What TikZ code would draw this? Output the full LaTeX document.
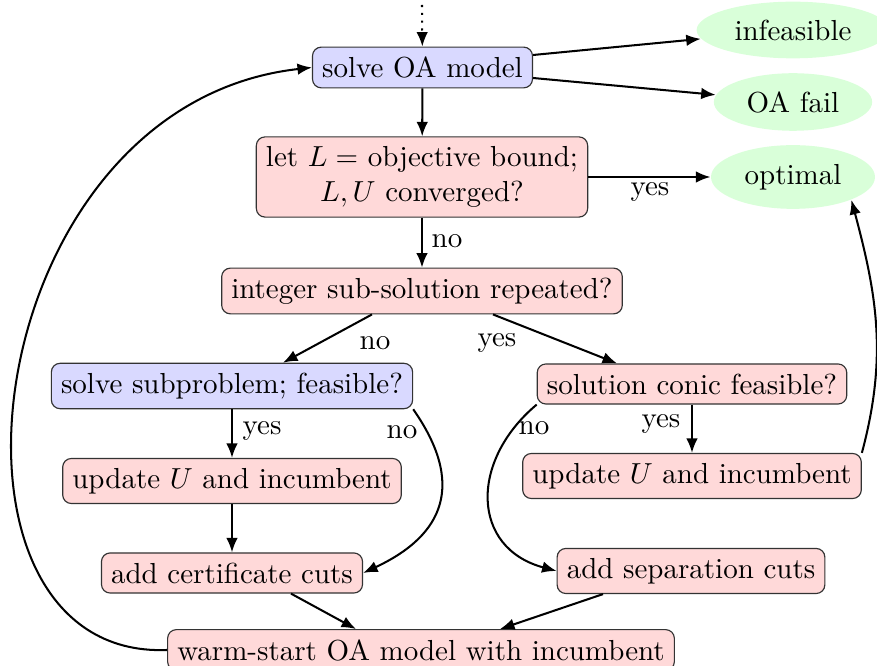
\documentclass[tikz,border=0pt]{standalone}
\usetikzlibrary{shapes.geometric,arrows.meta,calc}
\begin{document}
\begin{tikzpicture}[x=0.345pt,y=-0.345pt,
  box/.style={draw=black!80, rounded corners=3pt, fill=red!15},
  blbox/.style={box, fill=blue!15},
  term/.style={ellipse, fill=green!15},
  arr/.style={-{Latex[length=5pt,width=4pt]}, line width=0.7pt},
  lbl/.style={inner sep=1pt}]
\useasboundingbox (0,0) rectangle (877,666);
\clip (0,0) rectangle (877,666);
% nodes
\coordinate (top) at (422,5);
\node[blbox] (oa) at (422.5,67.5) {solve OA model};
\node[term] (inf) at (793,30) {infeasible};
\node[term] (fail) at (793,102) {OA fail};
\node[term] (opt) at (793,177) {optimal};
\node[box, align=center] (conv) at (422,177) {let $L=$ objective bound;\\ $L,U$ converged?};
\node[box] (rep) at (422,291) {integer sub-solution repeated?};
\node[blbox] (sub) at (232,386) {solve subproblem; feasible?};
\node[box] (con) at (692,384) {solution conic feasible?};
\node[box] (updL) at (232,481) {update $U$ and incumbent};
\node[box] (updR) at (692,476) {update $U$ and incumbent};
\node[box] (cert) at (232,573) {add certificate cuts};
\node[box] (sep) at (691,571) {add separation cuts};
\node[box] (warm) at (421,650) {warm-start OA model with incumbent};
% labels
\node[lbl] (l1) at (650,192) {yes};
\node[lbl] (l2) at (447,241) {no};
\node[lbl] (l3) at (375,343) {no};
\node[lbl] (l4) at (497,343) {yes};
\node[lbl] (l5) at (262,431) {yes};
\node[lbl] (l6) at (402,432) {no};
\node[lbl] (l7) at (534,428) {no};
\node[lbl] (l8) at (661,424) {yes};
% connectors
\draw[arr, dotted] (top) -- (oa);
\draw[arr] ($(oa.east)+(0,-12.5)$) -- (inf);
\draw[arr] ($(oa.east)+(0,10.5)$) -- (fail);
\draw[arr] (oa) -- (conv);
\draw[arr] (conv.east) -- (opt);
\draw[arr] (conv) -- (rep);
\draw[arr] ($(rep.south)+(-50,0)$) -- ($(sub.north)+(51,0)$);
\draw[arr] ($(rep.south)+(71,0)$) -- ($(con.north)+(-75,0)$);
\draw[arr] (sub) -- (updL);
\draw[arr] (updL) -- (cert);
\draw[arr] (sub.south east) to[out=-55,in=25,looseness=1.35] (cert.east);
\draw[arr] (con) -- (updR);
\draw[arr] (con.south west) to[out=-140,in=165,looseness=1.35] (sep.west);
\draw[arr] (updR.north east) to[out=75,in=-75] (opt.south east);
\draw[arr] ($(cert.south)+(59,0)$) -- ($(warm.north)+(-65,0)$);
\draw[arr] ($(sep.south)+(-88,0)$) -- ($(warm.north)+(79,0)$);
\draw[arr] (warm.west) .. controls (-85,660) and (-25,105) .. (oa.west);
\end{tikzpicture}
\end{document}
